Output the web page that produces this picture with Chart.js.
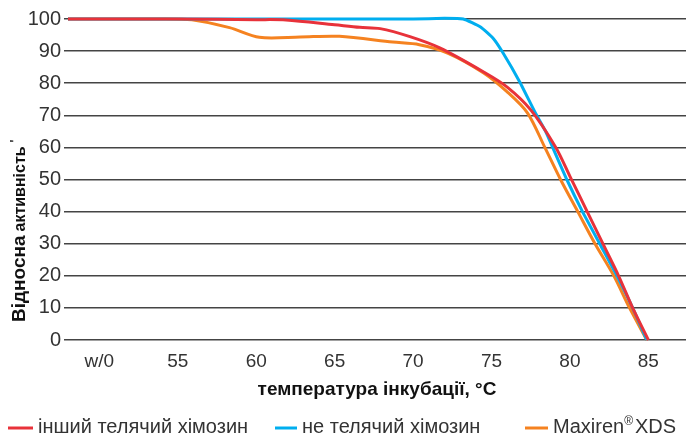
<!DOCTYPE html>
<html>
<head>
<meta charset="utf-8">
<script src="https://cdn.jsdelivr.net/npm/chart.js@4/dist/chart.umd.min.js"></script>
<style>
  html, body { margin: 0; padding: 0; background: #fff; }
  #wrap { width: 686px; height: 437px; position: relative; }
</style>
</head>
<body>
<div id="wrap"><canvas id="chart"></canvas></div>
<script>
// Relative enzyme activity vs incubation temperature (w/0 = no incubation, placed at 50)

const RED = '#e8323a';
const BLUE = '#00aeef';
const ORANGE = '#f58220';
const INK = '#333333';

const xTicks = [50, 55, 60, 65, 70, 75, 80, 85];
const xTickLabels = ['w/0', '55', '60', '65', '70', '75', '80', '85'];

const seriesNames = ['інший телячий хімозин', 'не телячий хімозин', 'Maxiren®XDS'];

// [temperature, activity]
const otherCalf = [
    [48, 100], [55, 100], [60, 99.8], [61.9, 99.7], [65, 98.2], [66.6, 97.4], [67.9, 97],
    [69.8, 94.5], [71.7, 91], [74.5, 83.5], [76, 78.8], [77.5, 71.7], [79.1, 60],
    [80, 51], [81.1, 40], [82.1, 30], [83.1, 20], [84, 10], [85, 0]
];
const nonCalf = [
    [48, 100], [60, 100], [70, 100], [72, 100.2], [73.2, 100], [74.3, 97.5], [75.1, 94],
    [75.7, 89.7], [76.8, 80.4], [77.8, 70.7], [78.5, 64.5], [78.9, 60], [79.8, 50],
    [80.8, 40], [81.9, 30], [83, 20], [84, 10], [84.9, 0]
];
const maxiren = [
    [48, 100], [54, 100], [55.9, 99.8], [58.3, 97.3], [60.2, 94.3], [62.8, 94.4], [65.3, 94.6],
    [68.7, 92.8], [70.4, 92], [72.2, 89.4], [74.5, 83.2], [76, 77.3], [77.3, 70.7],
    [78.4, 60], [79.4, 50], [80.5, 40], [81.6, 30], [82.8, 20], [83.8, 10], [84.9, 0]
];

const toPoints = (arr) => arr.map(([x, y]) => ({ x, y }));

const titlesPlugin = {
    id: 'titles',
    afterDraw(chart) {
        const ctx = chart.ctx;
        ctx.save();
        ctx.fillStyle = '#111';
        // y title, rotated
        ctx.translate(25, 322);
        ctx.rotate(-Math.PI / 2);
        ctx.textBaseline = 'alphabetic';
        ctx.textAlign = 'left';
        ctx.font = 'bold 19px "Liberation Sans", sans-serif';
        ctx.fillText('Відносна', 0, 0);
        let w = ctx.measureText('Відносна').width + 4;
        ctx.font = 'bold 16px "Liberation Sans", sans-serif';
        ctx.fillText('активність', w, 0);
        w += ctx.measureText('активність').width + 4;
        ctx.font = 'bold 12px "Liberation Sans", sans-serif';
        ctx.fillText('\'', w, -6);
        ctx.restore();

        // legend
        ctx.save();
        const colors = [RED, BLUE, ORANGE];
        const dashX = [8, 275, 525];
        const textX = [38, 302, 553];
        const font = '20px "Liberation Sans", sans-serif';
        ctx.textBaseline = 'middle';
        ctx.fillStyle = INK;
        seriesNames.forEach((name, i) => {
            ctx.strokeStyle = colors[i];
            ctx.lineWidth = 3;
            ctx.beginPath();
            ctx.moveTo(dashX[i], 428);
            ctx.lineTo(textX[i] - 5, 428);
            ctx.stroke();
            let tx = textX[i];
            const parts = name.split('®');
            ctx.font = font;
            ctx.fillText(parts[0], tx, 427);
            if (parts.length > 1) {
                tx += ctx.measureText(parts[0]).width;
                ctx.font = '12px "Liberation Sans", sans-serif';
                ctx.fillText('®', tx, 422);
                tx += ctx.measureText('®').width + 2;
                ctx.font = font;
                ctx.fillText(parts[1], tx, 427);
            }
        });
        ctx.restore();
    }
};

const lineDs = (label, data, color, tension) => ({
    label,
    data: toPoints(data),
    borderColor: color,
    backgroundColor: color,
    borderWidth: 3,
    pointRadius: 0,
    tension,
    clip: 4
});

new Chart(document.getElementById('chart'), {
    type: 'line',
    data: {
        datasets: [
            lineDs(seriesNames[0], otherCalf, RED, 0.3),
            lineDs(seriesNames[1], nonCalf, BLUE, 0.15),
            lineDs(seriesNames[2], maxiren, ORANGE, 0.3)
        ]
    },
    options: {
        responsive: true,
        maintainAspectRatio: false,
        animation: false,
        layout: { padding: { top: 19, right: 0, bottom: 36, left: 0 } },
        plugins: { legend: { display: false }, tooltip: { enabled: false } },
        scales: {
            x: {
                type: 'linear',
                min: 48,
                max: 87.4,
                afterBuildTicks: (s) => { s.ticks = xTicks.map(v => ({ value: v })); },
                afterFit: (s) => { s.height = 61; },
                grid: { display: false, drawTicks: false },
                border: { display: false },
                ticks: {
                    callback: (v) => xTickLabels[xTicks.indexOf(v)],
                    color: INK,
                    padding: 10,
                    maxRotation: 0,
                    font: { family: 'Liberation Sans', size: 19 }
                },
                title: {
                    display: true,
                    text: 'температура інкубації, °C',
                    color: '#111',
                    padding: { top: 5, bottom: 0 },
                    font: { family: 'Liberation Sans', size: 19, weight: 'bold' }
                }
            },
            y: {
                min: 0,
                max: 100,
                afterFit: (s) => { s.width = 68; },
                border: { display: false },
                grid: { color: '#444444', lineWidth: 1.5, tickLength: 4 },
                ticks: {
                    stepSize: 10,
                    color: INK,
                    padding: 3,
                    font: { family: 'Liberation Sans', size: 20 }
                }
            }
        }
    },
    plugins: [titlesPlugin]
});
</script>
</body>
</html>
